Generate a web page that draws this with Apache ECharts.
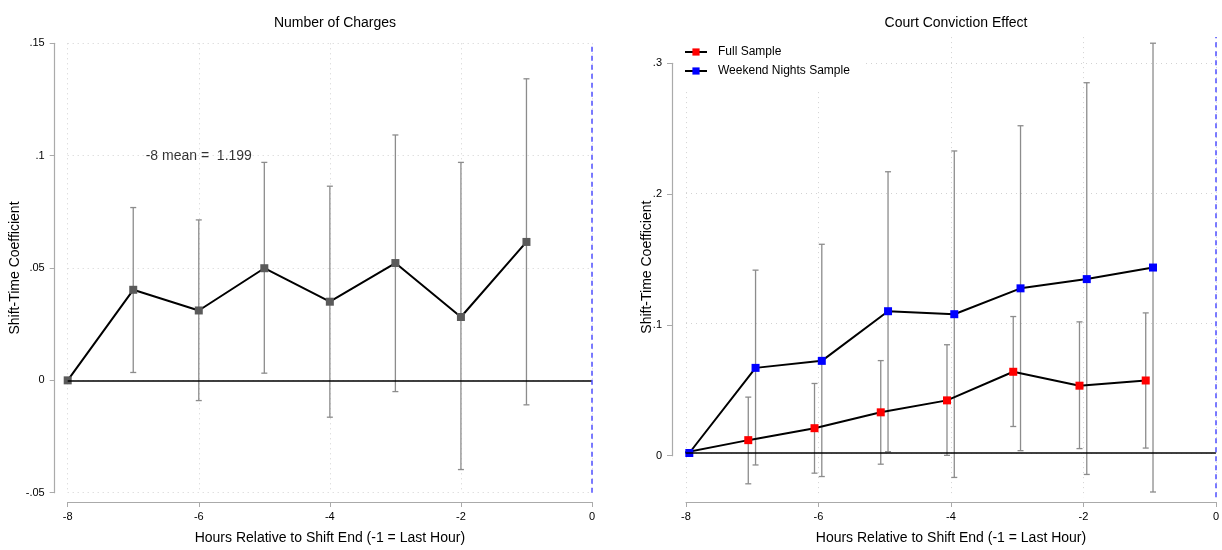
<!DOCTYPE html>
<html lang="en">
<head>
<meta charset="UTF-8">
<title>Shift-Time Coefficients</title>
<script src="https://cdn.jsdelivr.net/npm/echarts@6.0.0/dist/echarts.min.js"></script>
<style>
  html, body { margin: 0; padding: 0; background: #fff; }
  #chart { width: 1222px; height: 550px; }
</style>
</head>
<body>
<div id="chart"></div>
<script>
// hours relative to shift end
var hours = [-8, -7, -6, -5, -4, -3, -2, -1];
var xTicks = [-8, -6, -4, -2, 0];

// left panel: number of charges
var chargesCoef = [0, 0.0403, 0.0311, 0.0499, 0.0350, 0.0522, 0.0282, 0.0616];
var chargesLo   = [null, 0.0035, -0.0090, 0.0032, -0.0164, -0.0050, -0.0397, -0.0109];
var chargesHi   = [null, 0.0769, 0.0714, 0.0970, 0.0864, 0.1092, 0.0970, 0.1342];
var chargesNote = '-8 mean =  1.199';
var chargesNoteAt = [-6, 0.1];
var leftYTicks = [-0.05, 0, 0.05, 0.1, 0.15];

// right panel: court conviction effect
var fullCoef = [0, 0.0099, 0.0191, 0.0313, 0.0405, 0.0625, 0.0518, 0.0558];
var fullLo   = [null, -0.0237, -0.0155, -0.0086, -0.0018, 0.0204, 0.0034, 0.0038];
var fullHi   = [null, 0.0430, 0.0535, 0.0711, 0.0833, 0.1050, 0.1009, 0.1078];
var weekendCoef = [0, 0.0655, 0.0709, 0.1091, 0.1068, 0.1267, 0.1338, 0.1427];
var weekendLo   = [null, -0.0092, -0.0181, 0.0010, -0.0188, 0.0018, -0.0165, -0.0300];
var weekendHi   = [null, 0.1407, 0.1606, 0.2164, 0.2324, 0.2518, 0.2849, 0.3153];
var rightYTicks = [0, 0.1, 0.2, 0.3];
// stata nudges the two samples apart a little
var fullShift = -0.06, weekendShift = 0.05;

var FONT = '"Liberation Sans", Arial, sans-serif';
var AXIS_GRAY = '#aaaaaa';
var BAR_GRAY = '#8c8c8c';
var GRID_GRAY = '#d2d2d2';

// .15 style labels like stata
function stataNum(v) {
    var s = String(+v.toFixed(4));
    return s.replace(/^(-?)0\./, '$1.');
}

function pairs(xs, ys, shift) {
    return xs.map(function (x, i) { return [x + shift, ys[i]]; });
}

function barData(xs, lo, hi, shift) {
    var out = [];
    xs.forEach(function (x, i) {
        if (lo[i] != null) out.push([x + shift, lo[i], hi[i]]);
    });
    return out;
}

function renderBar(params, api) {
    var a = api.coord([api.value(0), api.value(1)]);
    var b = api.coord([api.value(0), api.value(2)]);
    var w = 3;
    var st = { stroke: BAR_GRAY, lineWidth: 1.3 };
    return {
        type: 'group',
        children: [
            { type: 'line', shape: { x1: a[0], y1: a[1], x2: b[0], y2: b[1] }, style: st },
            { type: 'line', shape: { x1: a[0] - w, y1: a[1], x2: a[0] + w, y2: a[1] }, style: st },
            { type: 'line', shape: { x1: b[0] - w, y1: b[1], x2: b[0] + w, y2: b[1] }, style: st }
        ]
    };
}

function refLines() {
    return {
        silent: true,
        symbol: 'none',
        label: { show: false },
        data: [
            { yAxis: 0, lineStyle: { color: '#000', width: 1.5, type: 'solid' } },
            { xAxis: 0, lineStyle: { color: '#4f4fff', width: 1.5, type: [5, 4] } }
        ]
    };
}

var xAxisBase = {
    type: 'value', min: -8, max: 0, interval: 2,
    name: 'Hours Relative to Shift End (-1 = Last Hour)',
    nameLocation: 'middle', nameGap: 29,
    nameTextStyle: { fontSize: 14, color: '#000', fontFamily: FONT },
    axisLine: { onZero: false, lineStyle: { color: AXIS_GRAY, width: 1.2 } },
    axisTick: { inside: false, length: 5, lineStyle: { color: AXIS_GRAY } },
    axisLabel: { margin: 9, fontSize: 11, color: '#000', fontFamily: FONT },
    splitLine: { show: true, lineStyle: { color: GRID_GRAY, type: [1, 4], width: 1 } }
};

var chart = echarts.init(document.getElementById('chart'));

var option = {
    animation: false,
    backgroundColor: '#fff',
    textStyle: { fontFamily: FONT },
    title: [
        { text: 'Number of Charges', left: 330, top: 11, textAlign: 'center',
          textStyle: { fontSize: 14, fontWeight: 'normal', color: '#000' } },
        { text: 'Court Conviction Effect', left: 951, top: 11, textAlign: 'center',
          textStyle: { fontSize: 14, fontWeight: 'normal', color: '#000' } }
    ],
    legend: {
        orient: 'vertical',
        left: 676, top: 37,
        padding: [9, 14, 13, 8],
        itemGap: 7,
        itemWidth: 22, itemHeight: 9,
        backgroundColor: '#fff',
        textStyle: { fontSize: 12, color: '#000', padding: [0, 0, 0, 6] },
        data: ['Full Sample', 'Weekend Nights Sample']
    },
    grid: [
        { left: 67.7, right: 630, top: 43.3, bottom: 54.3 },
        { left: 686, right: 3, top: 37.1, bottom: 49.8 },
        { left: 686, right: 3, top: 63.3, bottom: 94.3 }
    ],
    xAxis: [
        Object.assign({}, xAxisBase, { gridIndex: 0, offset: 9.3 }),
        Object.assign({}, xAxisBase, { gridIndex: 1, offset: 4.8 }),
        { gridIndex: 2, type: 'value', min: -8, max: 0, show: false }
    ],
    yAxis: [
        {
            gridIndex: 0, type: 'value', position: 'left',
            min: leftYTicks[0], max: leftYTicks[leftYTicks.length - 1], interval: 0.05,
            offset: 13,
            name: 'Shift-Time Coefficient', nameLocation: 'middle', nameGap: 32,
            nameTextStyle: { fontSize: 14, color: '#000' },
            axisLine: { show: true, onZero: false, lineStyle: { color: AXIS_GRAY, width: 1.2 } },
            axisTick: { show: true, length: 5, lineStyle: { color: AXIS_GRAY } },
            axisLabel: { margin: 10, fontSize: 11, color: '#000', formatter: stataNum },
            splitLine: { show: true, lineStyle: { color: GRID_GRAY, type: [1, 4], width: 1 } }
        },
        {
            gridIndex: 1, type: 'value', position: 'left', min: -0.034, max: 0.32,
            name: 'Shift-Time Coefficient', nameLocation: 'middle', nameGap: 32,
            nameTextStyle: { fontSize: 14, color: '#000' },
            axisLine: { show: false, onZero: false },
            axisTick: { show: false, customValues: rightYTicks },
            axisLabel: { show: false, customValues: rightYTicks },
            splitLine: { show: true, lineStyle: { color: GRID_GRAY, type: [1, 4], width: 1 } }
        },
        {
            gridIndex: 2, type: 'value', position: 'left', min: 0, max: 0.3, interval: 0.1,
            offset: 14,
            axisLine: { show: true, onZero: false, lineStyle: { color: AXIS_GRAY, width: 1.2 } },
            axisTick: { show: true, length: 5, lineStyle: { color: AXIS_GRAY } },
            axisLabel: { margin: 10, fontSize: 11, color: '#000', formatter: stataNum },
            splitLine: { show: false }
        }
    ],
    series: [
        {
            type: 'custom', xAxisIndex: 0, yAxisIndex: 0, z: 2,
            renderItem: renderBar,
            encode: { x: 0, y: [1, 2] },
            data: barData(hours, chargesLo, chargesHi, 0)
        },
        {
            name: 'Number of Charges', type: 'line', xAxisIndex: 0, yAxisIndex: 0, z: 4,
            symbol: 'rect', symbolSize: 8,
            itemStyle: { color: '#5a5a5a' },
            lineStyle: { color: '#000', width: 2 },
            data: pairs(hours, chargesCoef, 0),
            markLine: refLines()
        },
        {
            type: 'scatter', xAxisIndex: 0, yAxisIndex: 0, z: 5,
            symbolSize: 0, silent: true,
            label: { show: true, position: 'inside', formatter: chargesNote,
                     fontSize: 14, color: '#000' },
            data: [chargesNoteAt]
        },
        {
            type: 'custom', xAxisIndex: 1, yAxisIndex: 1, z: 2,
            renderItem: renderBar,
            encode: { x: 0, y: [1, 2] },
            data: barData(hours, fullLo, fullHi, fullShift)
        },
        {
            type: 'custom', xAxisIndex: 1, yAxisIndex: 1, z: 2,
            renderItem: renderBar,
            encode: { x: 0, y: [1, 2] },
            data: barData(hours, weekendLo, weekendHi, weekendShift)
        },
        {
            name: 'Full Sample', type: 'line', xAxisIndex: 1, yAxisIndex: 1, z: 4,
            symbol: 'rect', symbolSize: 8,
            itemStyle: { color: '#ff0000' },
            lineStyle: { color: '#000', width: 2 },
            data: pairs(hours, fullCoef, fullShift),
            markLine: refLines()
        },
        {
            name: 'Weekend Nights Sample', type: 'line', xAxisIndex: 1, yAxisIndex: 1, z: 4,
            symbol: 'rect', symbolSize: 8,
            itemStyle: { color: '#0000ff' },
            lineStyle: { color: '#000', width: 2 },
            data: pairs(hours, weekendCoef, weekendShift)
        }
    ]
};

chart.setOption(option);
</script>
</body>
</html>
